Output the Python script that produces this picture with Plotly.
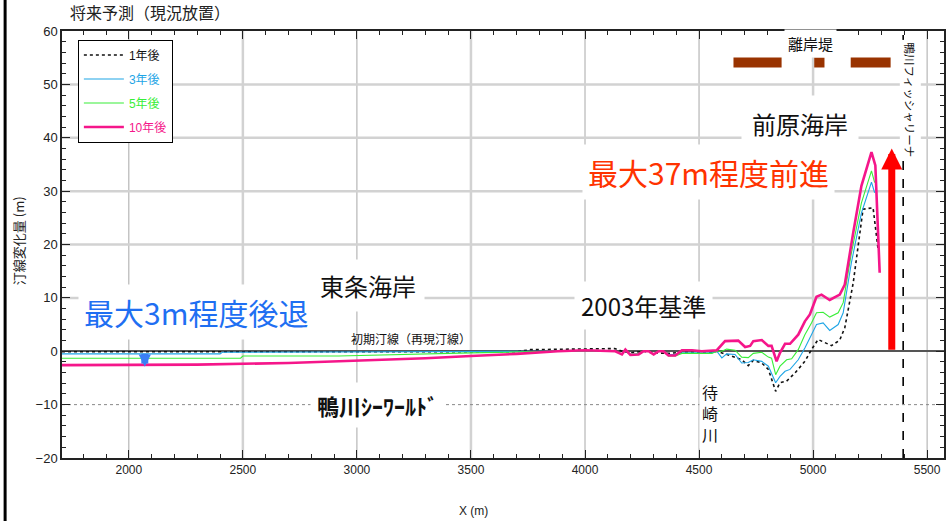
import plotly.graph_objects as go

# ---------------- data ----------------
x_1yr = [1707, 3700, 3760, 4000, 4130, 4162, 4199, 4257, 4301, 4366, 4425, 4556, 4578, 4643, 4687, 4716,
         4738, 4775, 4804, 4836, 4855, 4884, 4920, 4964, 4993, 5022, 5052, 5081, 5117, 5139, 5176, 5219,
         5263, 5285]
y_1yr = [-0.1, -0.1, 0.3, 0.5, 0.5, 0.0, -0.3, 0.0, -0.3, -0.4, -0.2, -0.2, 0.0, -0.9, -1.6, -2.7,
         -1.7, -2.2, -3.4, -7.5, -5.9, -5.6, -4.1, -1.9, 0.3, 2.2, 1.6, 1.05, 2.1, 4.4, 12.8, 26.6,
         26.9, 19.1]

x_3yr = [1707, 2400, 2410, 3500, 3800, 4000, 4133, 4162, 4177, 4199, 4235, 4257, 4279, 4301, 4323, 4344,
         4366, 4396, 4425, 4556, 4578, 4600, 4621, 4658, 4687, 4716, 4738, 4775, 4804, 4836, 4855, 4877,
         4899, 4935, 4964, 4993, 5015, 5044, 5073, 5110, 5132, 5168, 5212, 5256, 5270]
y_3yr = [-0.5, -0.5, -0.2, -0.1, 0.0, 0.1, 0.0, -0.5, 0.1, -0.6, -0.5, 0.0, 0.0, -0.5, 0.0, 0.0,
         -0.6, -0.6, -0.3, -0.3, 0.0, -1.25, -0.5, -0.6, -2.2, -2.1, -1.6, -1.9, -2.8, -5.9, -4.7, -3.75,
         -3.4, -1.6, 0.6, 3.1, 5.0, 5.3, 3.9, 5.0, 7.2, 16.6, 25.9, 31.7, 29.7]

x_5yr = [1707, 2490, 2500, 2920, 3500, 3800, 4000, 4133, 4162, 4177, 4199, 4235, 4257, 4279, 4301, 4323,
         4344, 4366, 4396, 4425, 4556, 4578, 4600, 4621, 4658, 4687, 4716, 4738, 4775, 4804, 4818, 4836,
         4855, 4884, 4906, 4935, 4964, 4993, 5015, 5044, 5073, 5110, 5132, 5168, 5212, 5256, 5270]
y_5yr = [-1.3, -1.3, -0.9, -0.9, -0.3, 0.0, 0.1, 0.0, -0.5, 0.2, -0.6, -0.5, 0.0, 0.0, -0.5, 0.0,
         0.0, -0.9, -0.9, -0.4, -0.4, 0.0, 0.0, 0.4, 0.2, -1.1, -1.2, -0.4, -0.2, -1.1, -1.3, -4.4,
         -2.8, -1.6, -1.4, 0.3, 3.1, 5.3, 7.2, 7.3, 6.4, 7.2, 9.1, 18.4, 27.8, 33.8, 31.6]

x_10yr = [1707, 2000, 2300, 2700, 3000, 3300, 3500, 3700, 3880, 4000, 4133, 4162, 4177, 4199, 4235, 4257,
          4279, 4301, 4323, 4344, 4366, 4396, 4425, 4469, 4512, 4556, 4578, 4614, 4672, 4702, 4724, 4738,
          4775, 4804, 4818, 4840, 4855, 4877, 4899, 4935, 4964, 4986, 5015, 5037, 5073, 5117, 5139, 5176,
          5212, 5256, 5273, 5292]
y_10yr = [-2.6, -2.6, -2.5, -2.2, -1.8, -1.3, -0.9, -0.5, 0.0, 0.2, 0.0, -0.6, 0.3, -0.7, -0.6, 0.0,
          0.0, -0.6, 0.0, 0.0, -0.8, -0.8, 0.2, 0.2, 0.0, 0.2, 0.2, 1.9, 2.0, 0.8, 1.0, 1.9,
          2.1, 1.0, 1.0, -1.9, -0.3, 1.4, 1.4, 3.1, 5.6, 6.9, 10.2, 10.6, 9.6, 10.6, 12.5, 22.2,
          31.0, 37.3, 34.8, 14.7]

series_names = ["1年後", "3年後", "5年後", "10年後"]

# breakwaters (離岸堤)
bw_start = [4651, 5005, 5165]
bw_end = [4862, 5050, 5340]
bw_level = 54.1

fishery_x = 5395          # 鴨川フィッシャリーナ boundary
advance_x, advance_top = 5345, 38.0
retreat_x, retreat_bottom = 2070, -2.9

x_range = [1707, 5574]
y_range = [-20, 60]

# ---------------- styles ----------------
C_BLACK = "#111111"
C_BLUE = "#1ea5e6"
C_GREEN = "#38ee38"
C_PINK = "#f5168a"
CJK = "Noto Sans CJK JP"
ARIAL = "Liberation Sans, Arial, sans-serif"
NARROW = "Liberation Sans Narrow, Liberation Sans, Arial, sans-serif"

fig = go.Figure()

styles = [
    dict(color=C_BLACK, width=1.6, dash="dot"),
    dict(color=C_BLUE, width=1.1),
    dict(color=C_GREEN, width=1.1),
    dict(color=C_PINK, width=2.6),
]
xs = [x_1yr, x_3yr, x_5yr, x_10yr]
ys = [y_1yr, y_3yr, y_5yr, y_10yr]
for i, (xv, yv, nm, st) in enumerate(zip(xs, ys, series_names, styles)):
    fig.add_trace(go.Scatter(
        x=xv, y=yv, mode="lines", line=st,
        name=f"<span style='color:{st['color']}'>{nm}</span>",
        legendgroup=f"g{i}", showlegend=True,
    ))

# breakwaters
bx, by = [], []
for s, e in zip(bw_start, bw_end):
    bx += [s, e, None]
    by += [bw_level, bw_level, None]
fig.add_trace(go.Scatter(x=bx, y=by, mode="lines", line=dict(color="#993300", width=10),
                         showlegend=False, hoverinfo="skip"))

# fishery boundary dashed line
fig.add_trace(go.Scatter(x=[fishery_x, fishery_x], y=y_range, mode="lines",
                         line=dict(color="#000000", width=1.6, dash="dash"),
                         showlegend=False, hoverinfo="skip"))

# ---------------- grid as shapes ----------------
shapes = []
thick = dict(color="#d2d2d2", width=2.5)
thin = dict(color="#a8a8a8", width=1)
for xv in [2500, 3500, 5000]:
    shapes.append(dict(type="line", xref="x", yref="y", x0=xv, x1=xv, y0=y_range[0], y1=y_range[1],
                       line=thick, layer="below"))
for xv in [2000, 3000, 4000, 4500, 5500]:
    shapes.append(dict(type="line", xref="x", yref="y", x0=xv, x1=xv, y0=y_range[0], y1=y_range[1],
                       line=thin, layer="below"))
for yv in [10, 20, 30, 40, 50]:
    shapes.append(dict(type="line", xref="x", yref="y", x0=x_range[0], x1=x_range[1], y0=yv, y1=yv,
                       line=thick, layer="below"))
shapes.append(dict(type="line", xref="x", yref="y", x0=x_range[0], x1=x_range[1], y0=-10, y1=-10,
                   line=dict(color="#888888", width=1, dash="dot"), layer="below"))
# left page border
shapes.append(dict(type="line", xref="paper", yref="paper", x0=-0.0645, x1=-0.0645, y0=-0.2, y1=1.1,
                   line=dict(color="#000000", width=3)))

# ---------------- annotations ----------------
def txt(x, y, text, size, color="#111111", bg="white", pad=4, font=CJK, **kw):
    return dict(x=x, y=y, xref="x", yref="y", text=text, showarrow=False,
                font=dict(family=font, size=size, color=color),
                bgcolor=bg, borderpad=pad, **kw)

ann = [
    txt(3050, 12.4, "東条海岸", 24, pad=8),
    txt(2293, 7.4, "最大3m程度後退", 30, color="#1f6ff2", pad=5),
    txt(3238, 2.4, "初期汀線（再現汀線）", 12, bg="rgba(0,0,0,0)", pad=0),
    txt(3089, -10.1, "<b>鴨川ｼｰﾜｰﾙﾄﾞ</b>", 22, pad=6),
    txt(4257, 8.5, "2003年基準", 24, pad=6),
    txt(4546, -11.6, "待<br>崎<br>川", 16, pad=2),
    txt(4944, 42.6, "前原海岸", 24, pad=10),
    txt(4541, 33.6, "最大37m程度前進", 30, color="#ff3300", pad=5),
    txt(4987, 57.6, "離岸堤", 15, pad=3),
    txt(5427, 47.1, "鴨川フィッシャリーナ", 11.5, pad=2, textangle=90),
    # arrows
    dict(x=advance_x, y=advance_top, ax=advance_x, ay=0, xref="x", yref="y", axref="x", ayref="y",
         text="", showarrow=True, arrowhead=2, arrowsize=0.6, arrowwidth=7, arrowcolor="#ff0000",
         standoff=0, startstandoff=0),
    dict(x=retreat_x, y=retreat_bottom, ax=retreat_x, ay=-0.2, xref="x", yref="y", axref="x", ayref="y",
         text="", showarrow=True, arrowhead=2, arrowsize=0.35, arrowwidth=7, arrowcolor="#3b7ff5",
         standoff=0, startstandoff=0),
    # title & axis titles
    dict(x=0.007, y=1.044, xref="paper", yref="paper", xanchor="left", yanchor="middle",
         text="将来予測（現況放置）", showarrow=False, font=dict(family=CJK, size=16, color="#222")),
    dict(x=-0.05, y=0.51, xref="paper", yref="paper", xanchor="center", yanchor="middle",
         text="汀線変化量 (m)", textangle=-90, showarrow=False,
         font=dict(family=CJK, size=13, color="#222")),
    dict(x=0.466, y=-0.124, xref="paper", yref="paper", xanchor="center", yanchor="middle",
         text="X (m)", showarrow=False, font=dict(family=NARROW, size=12, color="#222")),
]

fig.update_layout(
    width=949, height=521,
    margin=dict(l=62, r=3, t=31, b=63),
    paper_bgcolor="white", plot_bgcolor="white",
    shapes=shapes, annotations=ann,
    showlegend=True,
    legend=dict(x=0.018, y=0.98, xanchor="left", yanchor="top",
                bgcolor="white", bordercolor="#000000", borderwidth=1,
                font=dict(family=ARIAL + ", " + CJK, size=12, color="#111"),
                tracegroupgap=5, itemwidth=40),
    xaxis=dict(range=x_range, dtick=500, tick0=0, showgrid=False, zeroline=False,
               showline=True, linecolor="#222", linewidth=1.5, mirror="allticks",
               ticks="inside", ticklen=8, tickcolor="#222",
               minor=dict(dtick=100, ticks="inside", ticklen=4, tickcolor="#222", showgrid=False),
               tickfont=dict(family=NARROW, size=12, color="#222")),
    yaxis=dict(range=y_range, dtick=10, showgrid=False,
               zeroline=True, zerolinecolor="#555555", zerolinewidth=1.6,
               showline=True, linecolor="#222", linewidth=1.5, mirror="allticks",
               ticks="inside", ticklen=8, tickcolor="#222",
               minor=dict(dtick=2, ticks="inside", ticklen=4, tickcolor="#222", showgrid=False),
               tickfont=dict(family=ARIAL, size=13, color="#222")),
)

fig.write_html("out.html", config={"displayModeBar": False},
               post_script="document.body.style.margin='0px';document.body.style.overflow='hidden';")
